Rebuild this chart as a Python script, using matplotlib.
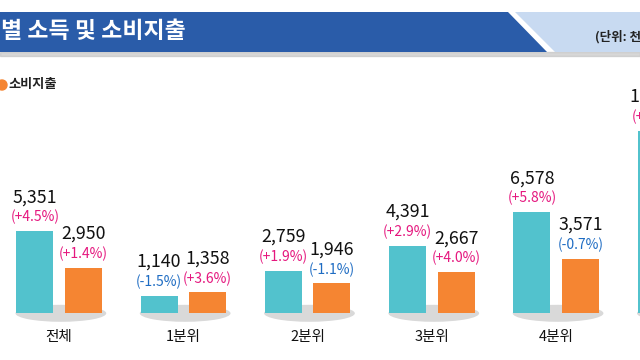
import numpy as np
import matplotlib.pyplot as plt
from matplotlib.patches import Polygon, Rectangle, Ellipse

plt.rcParams['font.family'] = ['Noto Sans CJK KR', 'DejaVu Sans']

# data (천원, 전년동분기대비 %)
groups = ['전체', '1분위', '2분위', '3분위', '4분위', '5분위']
income = [5351, 1140, 2759, 4391, 6578, 11880]
income_pct = ['+4.5%', '-1.5%', '+1.9%', '+2.9%', '+5.8%', '+4.7%']
spending = [2950, 1358, 1946, 2667, 3571, 4650]
spending_pct = ['+1.4%', '+3.6%', '-1.1%', '+4.0%', '-0.7%', '+0.5%']

teal = '#52c2cd'
orange = '#f58532'
pink = '#e5177e'
blue = '#1e6cc3'

W, H = 640, 360


def fx(px):
    return px / W


def fy(py):
    return 1 - py / H


fig = plt.figure(figsize=(6.4, 3.6), dpi=100)

# header band
fig.patches.append(Rectangle((0, fy(56)), 1, fy(52) - fy(56), transform=fig.transFigure,
                             color='#bdbdbd', alpha=0.6, zorder=0))
fig.patches.append(Polygon([(fx(515), fy(12)), (1, fy(12)), (1, fy(52)), (fx(555), fy(52))],
                           closed=True, transform=fig.transFigure, facecolor='#c8daf1',
                           edgecolor='none', zorder=1))
fig.patches.append(Polygon([(0, fy(12)), (fx(508), fy(12)), (fx(547), fy(52)), (0, fy(52))],
                           closed=True, transform=fig.transFigure, facecolor='#2a5ca9',
                           edgecolor='none', zorder=1))
fig.text(fx(1), fy(32), '별 소득 및 소비지출', color='white', fontsize=16.5, fontweight='bold',
         ha='left', va='center')
fig.text(fx(595), fy(37), '(단위: 천원, %)', color='#222222', fontsize=9, fontweight='bold',
         ha='left', va='center')

# legend (partly cut off at the left)
fig.patches.append(Ellipse((fx(2), fy(85)), fx(10) - fx(0), fy(0) - fy(10),
                           transform=fig.transFigure, color=orange, zorder=2))
fig.text(fx(8), fy(84), '소비지출', color='#222222', fontsize=9.5, fontweight='bold',
         ha='left', va='center')

# chart axes: 1 data unit in y = 0.01534 px, group spacing 124.3 px
spacing = 124.3
scale = 0.01534
base = 313.3
ymax = 16500
ax = fig.add_axes([0, fy(base), 1, ymax * scale / H])
ax.set_xlim(-59 / spacing, (W - 59) / spacing)
ax.set_ylim(0, ymax)
ax.axis('off')

x = np.arange(len(groups))
off = 0.195
bw = 0.298

for i in x:
    ax.add_patch(Ellipse((i + 0.015, 0), 0.73, 17 / scale, facecolor='#d9d9d9',
                         edgecolor='none', zorder=1, clip_on=False))

ax.bar(x - off, income, width=bw, color=teal, zorder=3)
ax.bar(x + off, spending, width=bw, color=orange, zorder=3)


def pct_color(s):
    return pink if s.startswith('+') else blue


for i in x:
    for xx, v, p in [(i - off, income[i], income_pct[i]), (i + off, spending[i], spending_pct[i])]:
        ax.annotate('{:,}'.format(v), (xx, v), xytext=(0, 34 * 0.72), textcoords='offset points',
                    ha='center', va='center', fontsize=12.8, color='#111111', annotation_clip=False)
        ax.annotate('(' + p + ')', (xx, v), xytext=(0, 14 * 0.72), textcoords='offset points',
                    ha='center', va='center', fontsize=10, color=pct_color(p), annotation_clip=False)
    ax.text(i, -23.4 / (ymax * scale), groups[i], transform=ax.get_xaxis_transform(),
            ha='center', va='center', fontsize=10.5, color='#111111')

fig.savefig('out.png', dpi=100)
